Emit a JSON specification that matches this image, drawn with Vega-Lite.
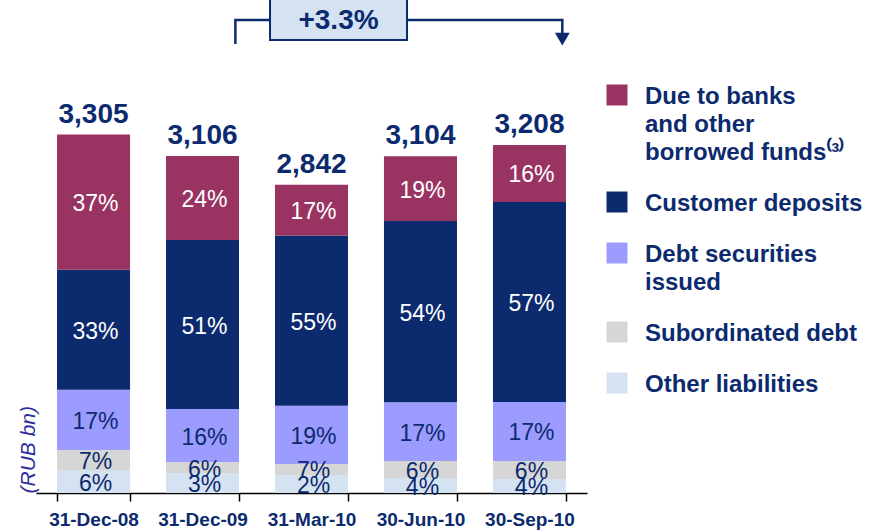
{
  "$schema": "https://vega.github.io/schema/vega-lite/v6.json",
  "width": 551,
  "height": 493,
  "autosize": {"type": "none"},
  "padding": {"left": 36, "top": 0, "right": 285, "bottom": 37},
  "config": {"font": "Liberation Sans", "view": {"stroke": null}},
  "datasets": {
    "segments": [
      {"d": "31-Dec-08", "s": "Other liabilities", "v": 212, "p": "6%", "k": 1},
      {"d": "31-Dec-08", "s": "Subordinated debt", "v": 185, "p": "7%", "k": 2},
      {"d": "31-Dec-08", "s": "Debt securities issued", "v": 554, "p": "17%", "k": 3},
      {"d": "31-Dec-08", "s": "Customer deposits", "v": 1108, "p": "33%", "k": 4},
      {"d": "31-Dec-08", "s": "Due to banks and other borrowed funds", "v": 1246, "p": "37%", "k": 5},
      {"d": "31-Dec-09", "s": "Other liabilities", "v": 184, "p": "3%", "k": 1},
      {"d": "31-Dec-09", "s": "Subordinated debt", "v": 101, "p": "6%", "k": 2},
      {"d": "31-Dec-09", "s": "Debt securities issued", "v": 489, "p": "16%", "k": 3},
      {"d": "31-Dec-09", "s": "Customer deposits", "v": 1558, "p": "51%", "k": 4},
      {"d": "31-Dec-09", "s": "Due to banks and other borrowed funds", "v": 774, "p": "24%", "k": 5},
      {"d": "31-Mar-10", "s": "Other liabilities", "v": 166, "p": "2%", "k": 1},
      {"d": "31-Mar-10", "s": "Subordinated debt", "v": 102, "p": "7%", "k": 2},
      {"d": "31-Mar-10", "s": "Debt securities issued", "v": 536, "p": "19%", "k": 3},
      {"d": "31-Mar-10", "s": "Customer deposits", "v": 1571, "p": "55%", "k": 4},
      {"d": "31-Mar-10", "s": "Due to banks and other borrowed funds", "v": 467, "p": "17%", "k": 5},
      {"d": "30-Jun-10", "s": "Other liabilities", "v": 138, "p": "4%", "k": 1},
      {"d": "30-Jun-10", "s": "Subordinated debt", "v": 156, "p": "6%", "k": 2},
      {"d": "30-Jun-10", "s": "Debt securities issued", "v": 542, "p": "17%", "k": 3},
      {"d": "30-Jun-10", "s": "Customer deposits", "v": 1671, "p": "54%", "k": 4},
      {"d": "30-Jun-10", "s": "Due to banks and other borrowed funds", "v": 597, "p": "19%", "k": 5},
      {"d": "30-Sep-10", "s": "Other liabilities", "v": 129, "p": "4%", "k": 1},
      {"d": "30-Sep-10", "s": "Subordinated debt", "v": 166, "p": "6%", "k": 2},
      {"d": "30-Sep-10", "s": "Debt securities issued", "v": 544, "p": "17%", "k": 3},
      {"d": "30-Sep-10", "s": "Customer deposits", "v": 1844, "p": "57%", "k": 4},
      {"d": "30-Sep-10", "s": "Due to banks and other borrowed funds", "v": 525, "p": "16%", "k": 5}
    ],
    "totals": [
      {"d": "31-Dec-08", "t": 3305},
      {"d": "31-Dec-09", "t": 3106},
      {"d": "31-Mar-10", "t": 2842},
      {"d": "30-Jun-10", "t": 3104},
      {"d": "30-Sep-10", "t": 3208}
    ],
    "bracket": [
      {"d": "31-Dec-09", "y": 4139, "o": 1},
      {"d": "31-Dec-09", "y": 4361, "o": 2},
      {"d": "30-Sep-10", "y": 4361, "o": 3},
      {"d": "30-Sep-10", "y": 4232, "o": 4}
    ],
    "arrow": [{"d": "30-Sep-10", "y": 4185}],
    "change": [{"d": "31-Mar-10", "y": 4397, "ty": 4351, "label": "+3.3%"}]
  },
  "layer": [
    {
      "data": {"name": "segments"},
      "mark": {"type": "bar"},
      "encoding": {
        "x": {
          "field": "d",
          "type": "nominal",
          "scale": {
            "domain": ["31-Dec-08", "31-Dec-09", "31-Mar-10", "30-Jun-10", "30-Sep-10"],
            "paddingInner": 0.33,
            "paddingOuter": 0.193
          },
          "axis": {
            "title": null,
            "labelAngle": 0,
            "labelFontSize": 19,
            "labelFontWeight": "bold",
            "labelColor": "#0C2A6E",
            "labelBaseline": "top",
            "labelPadding": 9,
            "domainColor": "#000000",
            "domainWidth": 1.5,
            "tickColor": "#000000",
            "tickWidth": 1.5,
            "tickSize": 8,
            "tickBand": "extent"
          }
        },
        "y": {
          "field": "v",
          "type": "quantitative",
          "stack": "zero",
          "scale": {"domain": [0, 4545], "nice": false},
          "axis": {
            "title": "(RUB bn)",
            "labels": false,
            "ticks": false,
            "domain": false,
            "grid": false,
            "titleFontStyle": "italic",
            "titleFontWeight": "normal",
            "titleFontSize": 21,
            "titleColor": "#2E2E9E",
            "titleAnchor": "start",
            "titlePadding": -2
          }
        },
        "color": {
          "field": "s",
          "type": "nominal",
          "scale": {
            "domain": ["Due to banks and other borrowed funds", "Customer deposits", "Debt securities issued", "Subordinated debt", "Other liabilities"],
            "range": ["#993462", "#0C2A6E", "#9C9CFF", "#D6D6D6", "#D5E2F2"]
          },
          "legend": {
            "orient": "none",
            "legendX": 569,
            "legendY": 83,
            "title": null,
            "padding": 0,
            "symbolType": "square",
            "symbolSize": 441,
            "symbolStrokeWidth": 0,
            "symbolOpacity": 1,
            "labelFontSize": 24,
            "labelFontWeight": "bold",
            "labelColor": "#0C2A6E",
            "labelOffset": 16,
            "labelLimit": 400,
            "labelBaseline": "top",
            "rowPadding": 25,
            "labelExpr": "datum.label == 'Due to banks and other borrowed funds' ? ['Due to banks', 'and other', 'borrowed funds⁽³⁾'] : datum.label == 'Debt securities issued' ? ['Debt securities', 'issued'] : datum.label",
            "encode": {
              "labels": {"update": {"dy": {"value": -10}, "lineHeight": {"value": 28}}}
            }
          }
        },
        "order": {"field": "k", "type": "quantitative"}
      }
    },
    {
      "data": {"name": "segments"},
      "mark": {"type": "text", "fontSize": 23, "dx": 2, "dy": 2, "baseline": "middle"},
      "encoding": {
        "x": {"field": "d", "type": "nominal"},
        "y": {"field": "v", "type": "quantitative", "stack": "zero", "bandPosition": 0.5},
        "detail": {"field": "s"},
        "order": {"field": "k", "type": "quantitative"},
        "text": {"field": "p"},
        "color": {"condition": {"test": "datum.k >= 4", "value": "#FFFFFF"}, "value": "#0C2A6E"}
      }
    },
    {
      "data": {"name": "totals"},
      "mark": {"type": "text", "fontSize": 28, "fontWeight": "bold", "baseline": "alphabetic", "dy": -12, "color": "#0C2A6E"},
      "encoding": {
        "x": {"field": "d", "type": "nominal"},
        "y": {"field": "t", "type": "quantitative"},
        "text": {"field": "t", "type": "quantitative", "format": ","}
      }
    },
    {
      "data": {"name": "bracket"},
      "mark": {"type": "line", "color": "#0C2A6E", "strokeWidth": 2.5},
      "encoding": {
        "x": {"field": "d", "type": "nominal", "bandPosition": 0.95},
        "y": {"field": "y", "type": "quantitative"},
        "order": {"field": "o", "type": "quantitative"}
      }
    },
    {
      "data": {"name": "arrow"},
      "mark": {"type": "point", "shape": "triangle-down", "filled": true, "size": 220, "color": "#0C2A6E", "opacity": 1},
      "encoding": {
        "x": {"field": "d", "type": "nominal", "bandPosition": 0.95},
        "y": {"field": "y", "type": "quantitative"}
      }
    },
    {
      "data": {"name": "change"},
      "mark": {"type": "point", "shape": "M-1,-0.35H1V0.35H-1Z", "filled": true, "fill": "#D5E2F2", "stroke": "#0C2A6E", "strokeWidth": 2, "size": 18769, "opacity": 1},
      "encoding": {
        "x": {"field": "d", "type": "nominal", "bandPosition": 0.87},
        "y": {"field": "y", "type": "quantitative"}
      }
    },
    {
      "data": {"name": "change"},
      "mark": {"type": "text", "fontSize": 28, "fontWeight": "bold", "baseline": "middle", "color": "#0C2A6E"},
      "encoding": {
        "x": {"field": "d", "type": "nominal", "bandPosition": 0.87},
        "y": {"field": "ty", "type": "quantitative"},
        "text": {"field": "label"}
      }
    }
  ]
}
